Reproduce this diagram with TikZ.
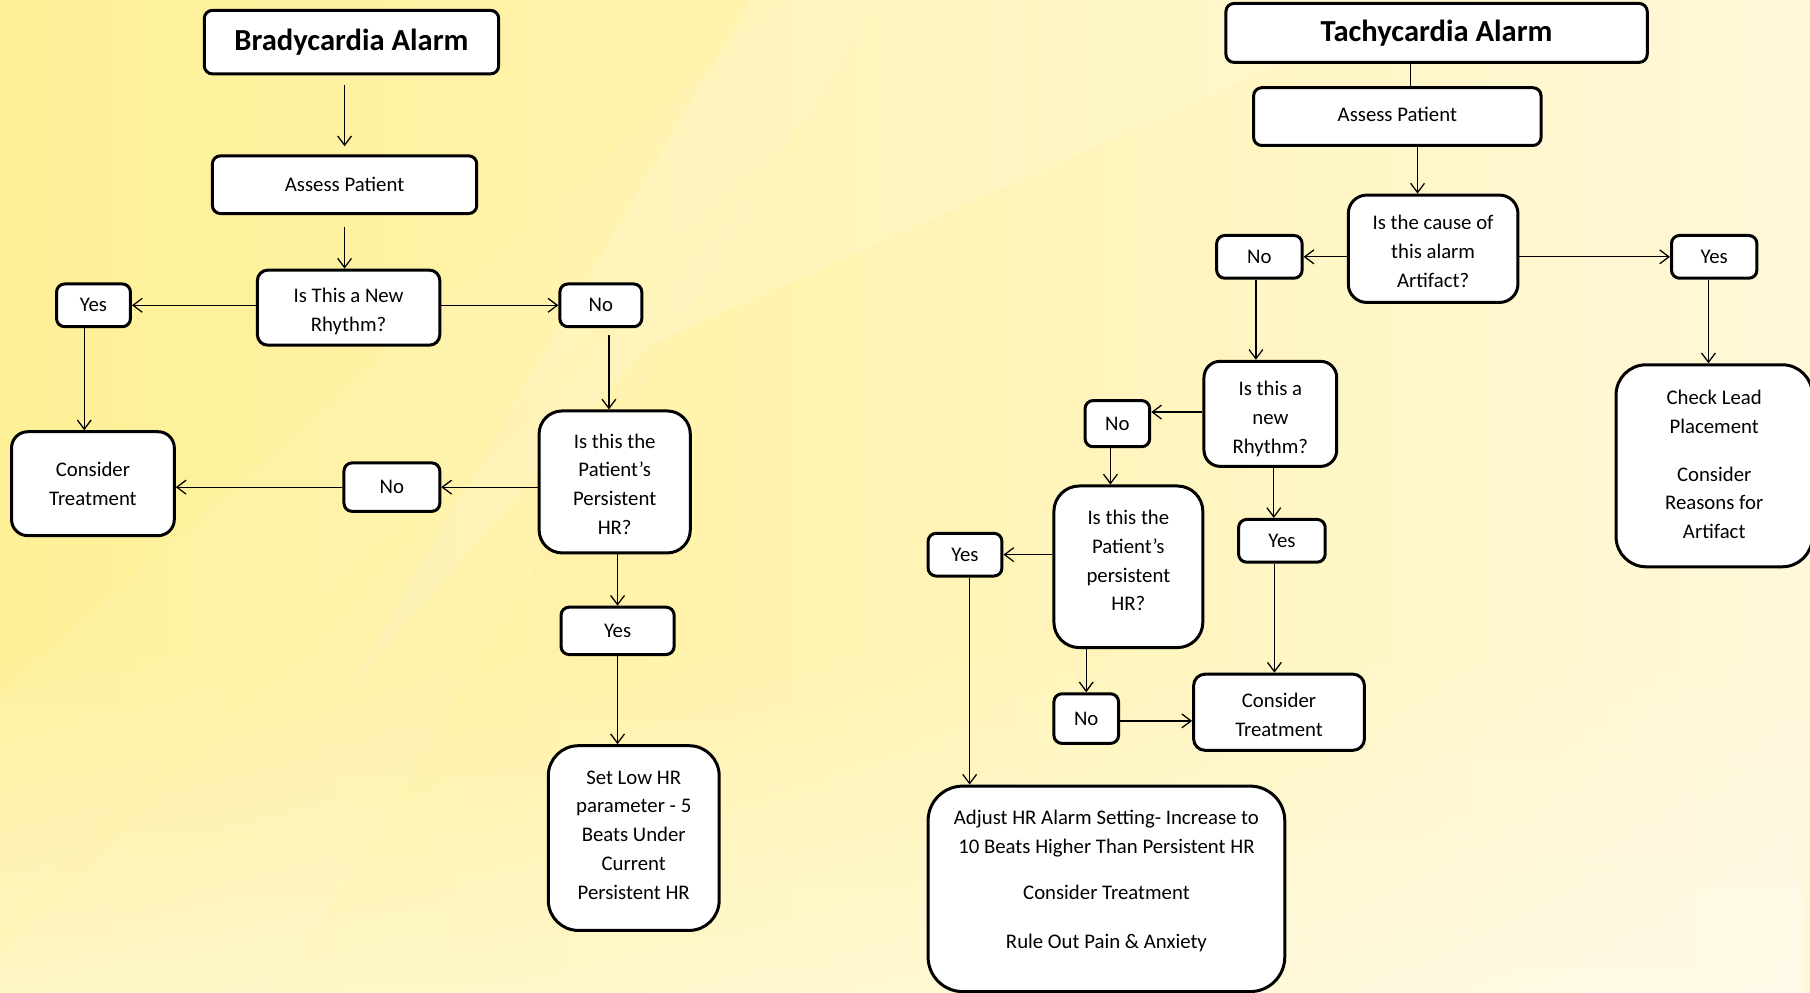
\documentclass[tikz,border=0pt]{standalone}
\usepackage{fontspec}
\setmainfont{Carlito}
\usetikzlibrary{arrows.meta,fadings}
\definecolor{bgA}{HTML}{FEF096}
\definecolor{bgB}{HTML}{FFF4B4}
\definecolor{bgC}{HTML}{FFF8DA}
\begin{document}
\begin{tikzpicture}[x=1pt,y=-1pt,
  box/.style={draw=black, fill=white, line width=2.6pt, rounded corners=7pt, align=center,
    font=\fontsize{18}{25}\selectfont, inner sep=0pt},
  tallbox/.style={box, rounded corners=20pt},
  titlebox/.style={box, font=\fontsize{26.5}{30}\selectfont\bfseries},
  txt/.style={align=center, font=\fontsize{18}{25}\selectfont, inner sep=0pt},
  arr/.style={line width=1.1pt, -{Straight Barb[length=8pt,width=12pt,line width=1.1pt]}},
  plain/.style={line width=1.1pt}]
\useasboundingbox (0,0) rectangle (1568,860);
\begin{scope}
\clip (0,0) rectangle (1568,860);
% background
\shade[left color=bgA, right color=bgC, middle color=bgB] (0,0) rectangle (1568,860);
\fill[white, opacity=0.40, path fading=north] (0,560) rectangle (1568,860);
\fill[white, opacity=0.14] (560,300) -- (1100,60) -- (1250,0) -- (650,0) -- (300,600) -- cycle;
\fill[white, opacity=0.08] (0,600) -- (0,860) -- (240,860) -- (760,0) -- (680,0) -- cycle;
\fill[yellow!40, opacity=0.12] (0,800) -- (0,830) -- (700,120) -- (690,110) -- cycle;

% ---------------- Bradycardia ----------------
\node[titlebox, minimum width=255, minimum height=55] (bt) at (304.5,36.5) {Bradycardia Alarm};
\node[box, minimum width=229, minimum height=50] (bap) at (298.5,160) {Assess Patient};
\node[box, minimum width=158, minimum height=65, rounded corners=9pt] (bnew) at (302,266.5) {};
\node[txt] (bnew-t) at ([yshift=-3.5pt]bnew.center) {Is This a New\\Rhythm?};
\node[box, minimum width=64, minimum height=37] (byes1) at (81,264.5) {Yes};
\node[box, minimum width=71, minimum height=37] (bno1) at (520.5,264.5) {No};
\node[tallbox, minimum width=131, minimum height=123] (bpers) at (532.5,417.5) {};
\node[txt] (bpers-t) at ([yshift=-2pt]bpers.center) {Is this the\\Patient’s\\Persistent\\HR?};
\node[box, minimum width=83, minimum height=42] (bno2) at (339.5,422) {No};
\node[box, minimum width=141, minimum height=90, rounded corners=14pt] (bct) at (80.5,419) {Consider\\Treatment};
\node[box, minimum width=98, minimum height=41] (byes2) at (535,546.5) {Yes};
\node[tallbox, minimum width=148, minimum height=160, rounded corners=26pt] (bset) at (549,726) {};
\node[txt] (bset-t) at ([yshift=2.5pt]bset.center) {Set Low HR\\parameter - 5\\Beats Under\\Current\\Persistent HR};

\draw[arr, shorten <=8pt, shorten >=7pt] (bap.north |- bt.south) -- (bap.north);
\draw[arr, shorten <=10pt] (bap.south) -- (bnew.north -| bap.south);
\draw[arr] (bnew.west |- byes1.east) -- (byes1.east);
\draw[arr] (bnew.east |- bno1.west) -- (bno1.west);
\draw[arr, shorten <=6pt] ([xshift=7pt]bno1.south) -- ([xshift=7pt]bno1.south |- bpers.north);
\draw[arr] (bpers.west |- bno2.east) -- (bno2.east);
\draw[arr] (bno2.west) -- (bno2.west -| bct.east);
\draw[arr] ([xshift=-8pt]byes1.south) -- ([xshift=-8pt]byes1.south |- bct.north);
\draw[arr] (byes2.north |- bpers.south) -- (byes2.north);
\draw[arr] (byes2.south) -- (byes2.south |- bset.north);

% ---------------- Tachycardia ----------------
\node[titlebox, minimum width=365, minimum height=51] (tt) at (1244.5,28.5) {Tachycardia Alarm};
\node[box, minimum width=249, minimum height=50] (tap) at (1210.5,101) {};
\node[txt] (tap-t) at ([yshift=1.5pt]tap.center) {Assess Patient};
\node[tallbox, minimum width=147, minimum height=93, rounded corners=16pt] (tart) at (1241.5,215.5) {};
\node[txt] (tart-t) at ([yshift=-2pt]tart.center) {Is the cause of\\this alarm\\Artifact?};
\node[box, minimum width=74, minimum height=37] (tno1) at (1091,222.5) {No};
\node[box, minimum width=74, minimum height=37] (tyes1) at (1485,222.5) {Yes};
\node[tallbox, minimum width=170, minimum height=175, rounded corners=26pt] (tcheck) at (1485,403.5) {};
\node[txt] (tcheck-t) at ([yshift=1pt]tcheck.center) {Check Lead\\Placement\\[16pt]Consider\\Reasons for\\Artifact};
\node[tallbox, minimum width=115, minimum height=91, rounded corners=14pt] (tnew) at (1100.5,358.5) {};
\node[txt] (tnew-t) at ([yshift=-4.5pt]tnew.center) {Is this a\\new\\Rhythm?};
\node[box, minimum width=56, minimum height=40] (tno2) at (968,367) {No};
\node[tallbox, minimum width=129, minimum height=140, rounded corners=22pt] (tpers) at (977.5,491) {};
\node[txt] (tpers-t) at ([yshift=5.5pt]tpers.center) {Is this the\\Patient’s\\persistent\\HR?};
\node[box, minimum width=75, minimum height=37] (tyes2) at (1110.5,468.5) {Yes};
\node[box, minimum width=148, minimum height=66, rounded corners=10pt] (tct) at (1108,617) {};
\node[txt] (tct-t) at ([yshift=-2pt]tct.center) {Consider\\Treatment};
\node[box, minimum width=64, minimum height=37] (tyes3) at (836,480.5) {Yes};
\node[box, minimum width=56, minimum height=43] (tno3) at (941,622.5) {No};
\node[tallbox, minimum width=309, minimum height=178, rounded corners=30pt] (tadj) at (958.5,770) {};
\node[txt] (tadj-t) at ([yshift=7pt]tadj.center) {Adjust HR Alarm Setting- Increase to\\10 Beats Higher Than Persistent HR\\[15pt]Consider Treatment\\[17pt]Rule Out Pain \& Anxiety};

\draw[plain] ([xshift=-22.5pt]tt.south) -- ([xshift=-22.5pt]tt.south |- tap.north);
\draw[arr] ([xshift=17.5pt]tap.south) -- ([xshift=17.5pt]tap.south |- tart.north);
\draw[arr] (tart.west |- tno1.east) -- (tno1.east);
\draw[arr] (tart.east |- tyes1.west) -- (tyes1.west);
\draw[arr] ([xshift=-5pt]tyes1.south) -- ([xshift=-5pt]tyes1.south |- tcheck.north);
\draw[arr] ([xshift=-3pt]tno1.south) -- ([xshift=-3pt]tno1.south |- tnew.north);
\draw[arr] ([yshift=1.5pt]tnew.west) -- ([yshift=1.5pt]tnew.west -| tno2.east);
\draw[arr] ([xshift=-6pt]tno2.south) -- ([xshift=-6pt]tno2.south |- tpers.north);
\draw[arr] ([xshift=3pt]tnew.south) -- ([xshift=3pt]tnew.south |- tyes2.north);
\draw[arr] ([xshift=-6.5pt]tyes2.south) -- ([xshift=-6.5pt]tyes2.south |- tct.north);
\draw[arr] (tpers.west |- tyes3.east) -- (tyes3.east);
\draw[arr] (tno3.north |- tpers.south) -- (tno3.north);
\draw[arr] ([yshift=-2pt]tno3.east) -- ([yshift=-2pt]tno3.east -| tct.west);
\draw[arr] ([xshift=4pt]tyes3.south) -- ([xshift=4pt]tyes3.south |- tadj.north);
\end{scope}
\end{tikzpicture}
\end{document}
